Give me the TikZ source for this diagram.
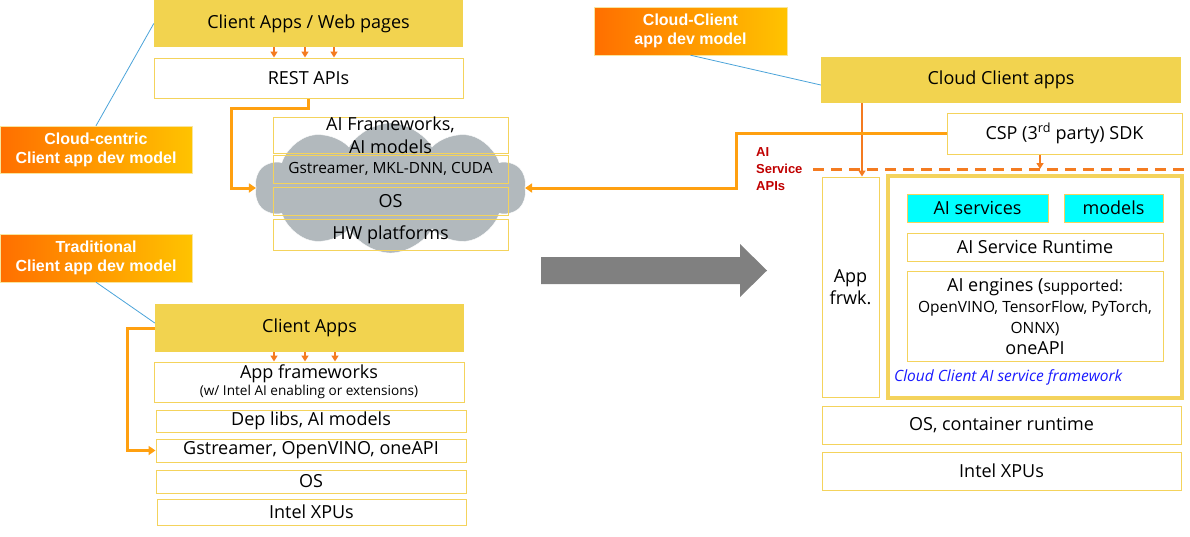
\documentclass[tikz,border=0pt]{standalone}
\usepackage{fontspec}
\setmainfont{Open Sans}
\newfontfamily\arialfont{Liberation Sans}
\usepackage{tikz}
\usepackage{xcolor}
\usetikzlibrary{arrows.meta,shapes.symbols}

\definecolor{appyellow}{HTML}{F2D34F}
\definecolor{boxyellow}{HTML}{F4D35C}
\definecolor{labelorange}{HTML}{FF6F00}
\definecolor{labelgold}{HTML}{FFC300}
\definecolor{feedorange}{HTML}{F47B20}
\definecolor{bracketorange}{HTML}{FFA010}
\definecolor{calloutblue}{HTML}{4BA3D9}
\definecolor{cloudgray}{HTML}{B2B9BD}
\definecolor{arrowgray}{HTML}{808080}
\definecolor{apired}{HTML}{C00000}
\definecolor{captionblue}{HTML}{1A1AFF}
\definecolor{servicecyan}{HTML}{00FFFF}

\tikzset{
    layer/.style={draw=boxyellow, fill=white, line width=1pt, inner sep=0pt, align=center, font=\fontsize{18}{22}\selectfont},
    appbox/.style={fill=appyellow, inner sep=0pt, align=center, font=\fontsize{18}{22}\selectfont},
    modellabel/.style={draw=boxyellow!60, left color=labelorange, right color=labelgold, text=white, inner sep=0pt, align=center, font=\arialfont\bfseries\fontsize{16}{19}\selectfont},
    feed/.style={draw=feedorange, line width=2pt, -{Triangle[width=7pt,length=6pt]}},
    bracket/.style={draw=bracketorange, line width=3pt, -{Triangle[width=9pt,length=7pt]}},
    callout/.style={draw=calloutblue, line width=0.8pt}
}

\begin{document}
\begin{tikzpicture}[x=1pt,y=-1pt]
                \useasboundingbox (0,0) rectangle (1190,536);
                \node[modellabel, minimum width=192, minimum height=47] (lcentric) at (96,149.5) {Cloud-centric\\Client app dev model};
                \node[modellabel, minimum width=192, minimum height=48] (ltrad) at (96,258) {Traditional\\Client app dev model};
                \node[modellabel, minimum width=193, minimum height=48] (lcc) at (690.5,31) {Cloud-Client\\app dev model};
                \node[appbox, minimum width=309, minimum height=47] (web) at (308.5,23.5) {Client Apps / Web pages};
                \node[layer, minimum width=309, minimum height=40] (rest) at (308.5,78) {REST APIs};
                \node[cloud, cloud puffs=10, cloud puff arc=120, aspect=2.1, fill=cloudgray, draw=white, inner sep=0pt, minimum width=271, minimum height=130] (cloudbg) at (390.5,188) {};
                \node[layer, fill=none, minimum width=235, minimum height=36] (aifw) at (390.5,135) {};
                \node[align=center, inner sep=0pt, font=\fontsize{18}{23}\selectfont] (aifwtext) at (aifw) {AI Frameworks,\\AI models};
                \node[layer, fill=none, minimum width=235, minimum height=28, font=\fontsize{15.4}{18}\selectfont] (gstc) at (390.5,169) {Gstreamer, MKL-DNN, CUDA};
                \node[layer, fill=none, minimum width=235, minimum height=28] (osc) at (390.5,201) {OS};
                \node[layer, fill=none, minimum width=235, minimum height=31] (hwc) at (390.5,234.5) {HW platforms};
                \node[appbox, minimum width=309, minimum height=48] (apps) at (309.5,328) {Client Apps};
                \node[layer, minimum width=310, minimum height=40] (appfw) at (309,382) {App frameworks\\[-5pt]{\fontsize{13.6}{15}\selectfont (w/ Intel AI enabling or extensions)}};
                \node[layer, minimum width=310, minimum height=22] (dep) at (311,421) {Dep libs, AI models};
                \node[layer, minimum width=310, minimum height=23] (gstl) at (311,450.5) {Gstreamer, OpenVINO, oneAPI};
                \node[layer, minimum width=310, minimum height=23] (osl) at (311,481.5) {OS};
                \node[layer, minimum width=309, minimum height=26] (xpul) at (311.5,512) {Intel XPUs};
                \node[appbox, minimum width=360, minimum height=46] (ccapps) at (1001,80) {Cloud Client apps};
                \node[layer, minimum width=235, minimum height=41] (csp) at (1064.5,133.5) {CSP (3\textsuperscript{rd} party) SDK};
                \node[layer, minimum width=57, minimum height=220] (frwk) at (850.5,287) {App\\frwk.};
                \node[draw=boxyellow, line width=3.5pt, minimum width=294, minimum height=222] (aisf) at (1035,287) {};
                \node[layer, fill=servicecyan, minimum width=141, minimum height=28] (aisvc) at (977.5,208) {AI services};
                \node[layer, fill=servicecyan, minimum width=99, minimum height=28] (models) at (1113.5,208) {models};
                \node[layer, minimum width=256, minimum height=28] (airt) at (1035,247) {AI Service Runtime};
                \node[layer, minimum width=256, minimum height=90, font=\fontsize{18}{21}\selectfont] (aieng) at (1035,316) {AI engines ({\fontsize{15.5}{21}\selectfont supported:}\\{\fontsize{15.5}{21}\selectfont OpenVINO, TensorFlow, PyTorch,}\\{\fontsize{15.5}{21}\selectfont ONNX)}\\oneAPI};
                \node[anchor=west, inner sep=0pt, text=captionblue, font=\itshape\fontsize{15.5}{18}\selectfont] (caption) at (894,377) {Cloud Client AI service framework};
                \node[layer, minimum width=359, minimum height=38] (osr) at (1001.5,425) {OS, container runtime};
                \node[layer, minimum width=359, minimum height=38] (xpur) at (1001.5,471) {Intel XPUs};
                \coordinate (apiL) at (813,169);
                \coordinate (apiR) at (1190,169);
                \draw[feedorange, line width=3pt, dash pattern=on 11pt off 7pt] (apiL) -- (apiR);
                \node[anchor=west, inner sep=0pt, align=left, text=apired, font=\arialfont\bfseries\fontsize{13}{17}\selectfont] (apis) at (756,169) {AI\\Service\\APIs};
                \fill[arrowgray] (541,257) -- (740,257) -- (740,244) -- (767,270.5) -- (740,297) -- (740,284) -- (541,284) -- cycle;
                \foreach \x in {274,305,334} \draw[feed] (\x,0 |- web.south) -- (\x,0 |- rest.north);
                \foreach \x in {274,305,335} \draw[feed] (\x,0 |- apps.south) -- (\x,0 |- appfw.north);
                \draw[feed, line width=2.8pt] (862,0 |- ccapps.south) -- (862,0 |- frwk.north);
                \draw[feed] (1040,0 |- csp.south) -- (1040,0 |- apiL);
                \draw[bracket] (rest.south) -- ++(0,10) -| ([xshift=-24pt]cloudbg.west) -- (cloudbg.west);
                \draw[bracket] (csp.west) -- ++(-210,0) |- (cloudbg.east);
                \draw[bracket] (apps.west) -- ++(-27,0) |- (gstl.west);
                \draw[callout] (lcentric.north) -- (web.west);
                \draw[callout] (ltrad.south) -- ([yshift=5pt]apps.west);
                \draw[callout] (lcc.south) -- ([yshift=-5pt]ccapps.west);
            \end{tikzpicture}
\end{document}
